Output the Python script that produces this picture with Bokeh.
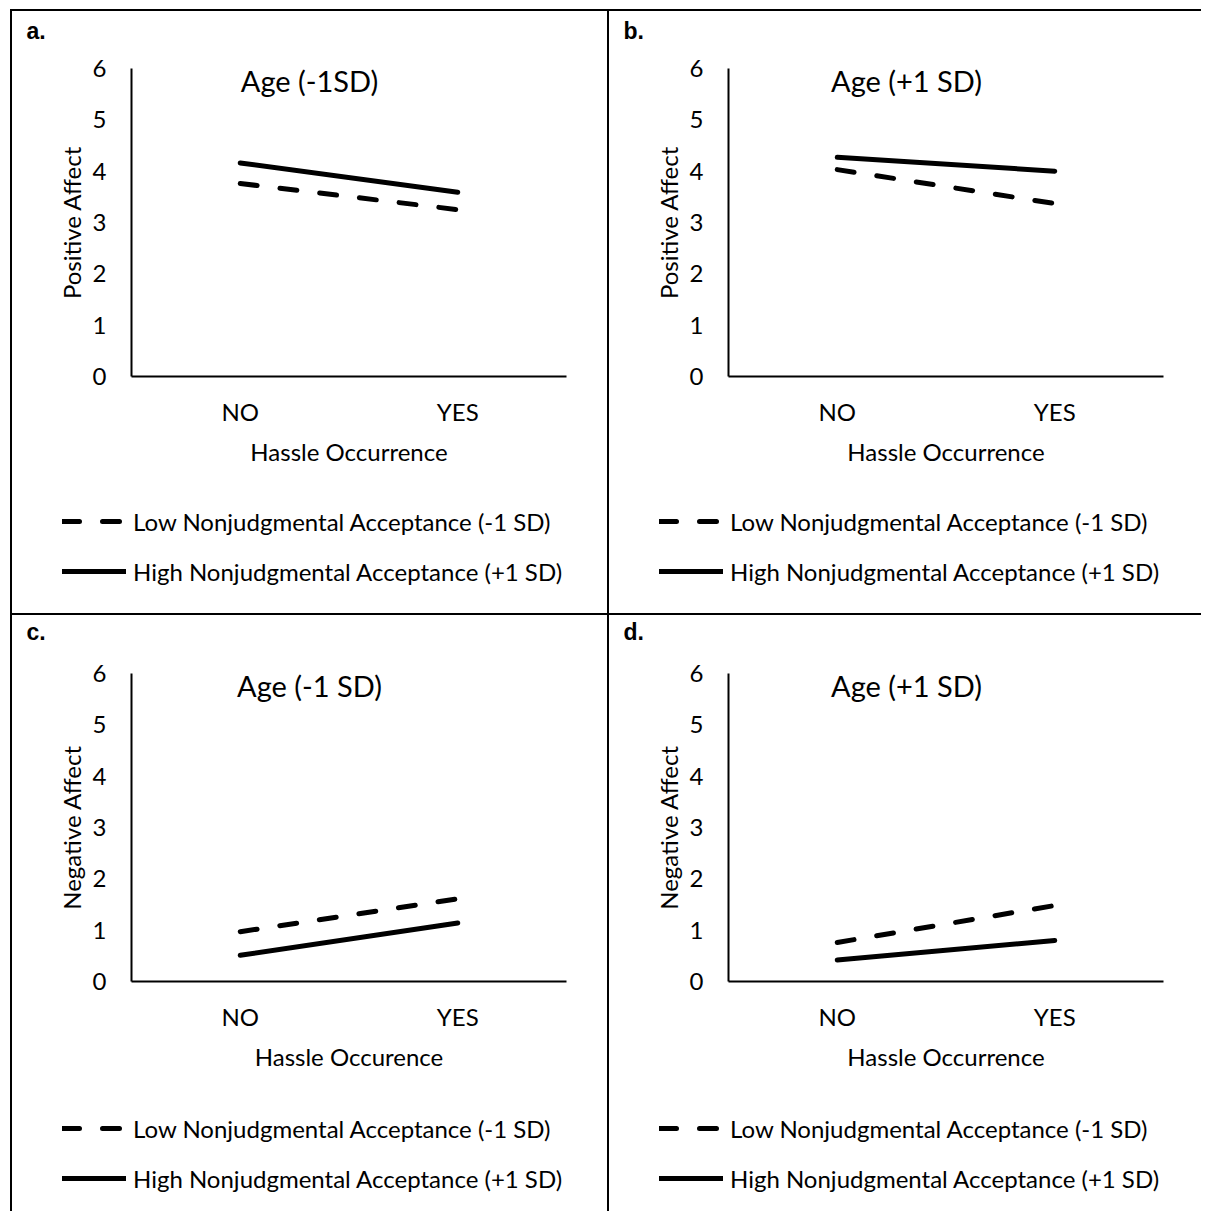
from bokeh.plotting import figure
from bokeh.models import Range1d, FactorRange, Label, Legend, LegendItem, FixedTicker
from bokeh.layouts import column, row
from bokeh.embed import file_html
from bokeh.resources import INLINE

# ---- data ----
categories = ["NO", "YES"]
y_ticks = [0, 1, 2, 3, 4, 5, 6]

a_low = [3.76, 3.25]
a_high = [4.16, 3.59]
b_low = [4.03, 3.37]
b_high = [4.27, 4.00]
c_low = [0.97, 1.61]
c_high = [0.51, 1.14]
d_low = [0.76, 1.48]
d_high = [0.42, 0.80]

panel_letters = ["a.", "b.", "c.", "d."]
panel_titles = ["Age (-1SD)", "Age (+1 SD)", "Age (-1 SD)", "Age (+1 SD)"]
y_titles = ["Positive Affect", "Positive Affect", "Negative Affect", "Negative Affect"]
x_titles = ["Hassle Occurrence", "Hassle Occurrence", "Hassle Occurence", "Hassle Occurrence"]
legend_labels = ["Low Nonjudgmental Acceptance (-1 SD)", "High Nonjudgmental Acceptance (+1 SD)"]

FONT = "Lato"
FS = "24px"
DASH = "17 23"
LW = 5
NAN = float("nan")


def border_styles(sides):
    return {"border-" + s: "2px solid black" for s in sides}


def blank_fig(width, height, sides):
    f = figure(width=width, height=height, output_backend="svg", toolbar_location=None,
               x_range=Range1d(0, 1), y_range=Range1d(0, 1),
               x_axis_location=None, y_axis_location=None,
               min_border=0, min_border_left=0, min_border_right=0,
               min_border_top=0, min_border_bottom=0, frame_align=False,
               styles=border_styles(sides))
    f.outline_line_color = None
    f.grid.grid_line_color = None
    f.background_fill_color = "white"
    f.border_fill_color = "white"
    return f


def make_cell(idx, low, high, width, height, top_gap, left_col, letter_y, leg_top):
    side = ["left", "right"] if left_col else []
    frame_w, frame_h = 435, 308
    left = 119
    head_h = 40
    chart_bottom = 100
    chart_h = (top_gap - head_h) + frame_h + chart_bottom
    leg_h = height - head_h - chart_h

    # header with panel letter
    header = blank_fig(width, head_h, side + ["top"])
    header.add_layout(Label(x=14, y=head_h - letter_y, x_units="screen", y_units="screen",
                            text=panel_letters[idx], text_font="Liberation Sans",
                            text_font_style="bold", text_font_size="23px",
                            text_baseline="middle", text_color="black"))

    # chart
    p = figure(width=width, height=chart_h, output_backend="svg", toolbar_location=None,
               x_range=FactorRange(*categories), y_range=Range1d(0, 6),
               min_border_left=left, min_border_right=width - left - frame_w,
               min_border_top=top_gap - head_h, min_border_bottom=chart_bottom,
               styles=border_styles(side))
    p.outline_line_color = None
    p.xgrid.grid_line_color = None
    p.ygrid.grid_line_color = None
    p.background_fill_color = "white"
    p.border_fill_color = "white"

    for ax in (p.xaxis[0], p.yaxis[0]):
        ax.axis_line_color = "black"
        ax.axis_line_width = 2
        ax.major_tick_line_color = None
        ax.minor_tick_line_color = None
        ax.major_tick_out = 0
        ax.major_tick_in = 0
        ax.minor_tick_out = 0
        ax.major_label_text_font = FONT
        ax.major_label_text_font_size = FS
        ax.major_label_text_color = "black"
        ax.axis_label_text_font = FONT
        ax.axis_label_text_font_size = FS
        ax.axis_label_text_font_style = "normal"
        ax.axis_label_text_color = "black"

    p.yaxis[0].ticker = FixedTicker(ticks=y_ticks)
    p.yaxis[0].major_label_standoff = 25
    p.yaxis[0].axis_label = y_titles[idx]
    p.yaxis[0].axis_label_standoff = 4
    p.xaxis[0].major_label_standoff = 20
    p.xaxis[0].axis_label = x_titles[idx]
    p.xaxis[0].axis_label_standoff = 8

    p.line(x=categories, y=low, line_color="black", line_width=LW,
           line_dash=DASH, line_cap="round")
    p.line(x=categories, y=high, line_color="black", line_width=LW, line_cap="round")

    p.add_layout(Label(x=178, y=296, x_units="screen", y_units="screen",
                       text=panel_titles[idx], text_align="center", text_baseline="middle",
                       text_font=FONT, text_font_size="29px", text_color="black"))

    # legend figure (proxy renderers hold no visible points)
    lf = blank_fig(width, leg_h, side)
    r_low = lf.line(x=[NAN, NAN], y=[NAN, NAN], line_color="black", line_width=LW,
                    line_dash=DASH, line_cap="round")
    r_high = lf.line(x=[NAN, NAN], y=[NAN, NAN], line_color="black", line_width=LW,
                     line_cap="round")
    legend = Legend(items=[LegendItem(label=legend_labels[0], renderers=[r_low]),
                           LegendItem(label=legend_labels[1], renderers=[r_high])],
                    location=(50, leg_h - leg_top - 84), orientation="vertical",
                    glyph_width=64, glyph_height=34, spacing=16, padding=0, margin=0,
                    label_standoff=7, border_line_color=None, background_fill_alpha=0,
                    label_text_font=FONT, label_text_font_size=FS, label_text_color="black")
    lf.add_layout(legend)

    return column(header, p, lf, spacing=0)


ca = make_cell(0, a_low, a_high, 599, 604, 59, True, 19, 28)
cb = make_cell(1, b_low, b_high, 592, 604, 59, False, 19, 28)
cc = make_cell(2, c_low, c_high, 599, 598, 60, True, 16, 30)
cd = make_cell(3, d_low, d_high, 592, 598, 60, False, 16, 30)

layout = column(row(ca, cb, spacing=0), row(cc, cd, spacing=0), spacing=0, margin=(9, 0, 0, 10))

open("out.html", "w").write(file_html(layout, INLINE))
